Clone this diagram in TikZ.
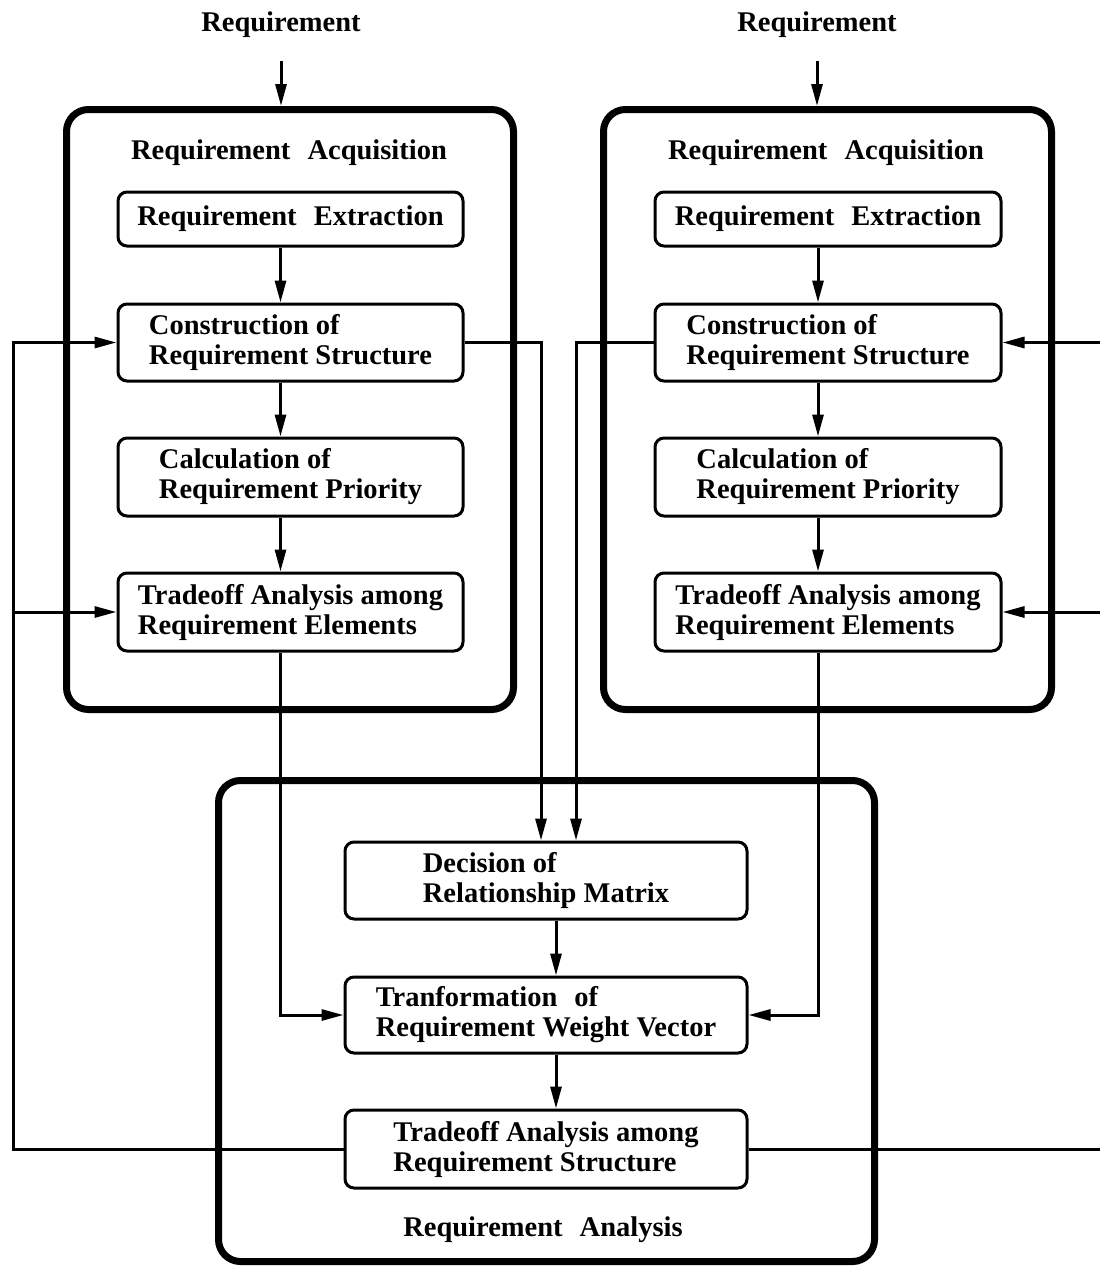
\documentclass[tikz,border=0pt]{standalone}
\usepackage{fontspec}
\setmainfont{Liberation Serif}
\usetikzlibrary{arrows.meta}
\begin{document}
\begin{tikzpicture}[x=1pt,y=-1pt,
 txt/.style={font=\fontsize{28.5}{30}\selectfont\bfseries},
 inbox/.style={draw, line width=3pt, rounded corners=9pt, align=left, txt, inner sep=0pt},
 lbox/.style={inbox, minimum width=345pt},
 rbox/.style={inbox, minimum width=346pt},
 bbox/.style={inbox, minimum width=402pt},
 bigbox/.style={draw, line width=7pt, rounded corners=22pt, inner sep=0pt},
 conn/.style={line width=3pt},
 arr/.style={conn, -{Triangle[length=22pt,width=11pt]}},
]
\useasboundingbox (0,0) rectangle (1100,1266);

% big boxes
\node[bigbox, minimum width=447pt, minimum height=600pt] (acqL) at (290,409.5) {};
\node[bigbox, minimum width=448pt, minimum height=600pt] (acqR) at (827.5,409.5) {};
\node[bigbox, minimum width=656pt, minimum height=481pt] (ana) at (546.5,1021) {};

% titles
\node[txt] (reqL) at (281,25) {Requirement};
\node[txt] (reqR) at (817,25) {Requirement};
\node[txt] (tL) at (289,153) {Requirement\hspace{0.6em}Acquisition};
\node[txt] (tR) at (826,153) {Requirement\hspace{0.6em}Acquisition};
\node[txt] (tA) at (543,1230) {Requirement\hspace{0.6em}Analysis};

% left column
\node[lbox, minimum height=54pt] (extL) at (290.5,219) {Requirement\hspace{0.6em}Extraction};
\node[lbox, minimum height=77pt] (consL) at (290.5,342.5) {Construction of\\Requirement Structure};
\node[lbox, minimum height=78pt] (calcL) at (290.5,477) {Calculation of\\Requirement Priority};
\node[lbox, minimum height=78pt] (tradeL) at (290.5,612) {Tradeoff Analysis among\\Requirement Elements};

% right column
\node[rbox, minimum height=54pt] (extR) at (828,219) {Requirement\hspace{0.6em}Extraction};
\node[rbox, minimum height=77pt] (consR) at (828,342.5) {Construction of\\Requirement Structure};
\node[rbox, minimum height=78pt] (calcR) at (828,477) {Calculation of\\Requirement Priority};
\node[rbox, minimum height=78pt] (tradeR) at (828,612) {Tradeoff Analysis among\\Requirement Elements};

% bottom column
\node[bbox, minimum height=77pt] (dec) at (546,880.5) {Decision of\\Relationship Matrix};
\node[bbox, minimum height=76pt] (trans) at (546,1015) {Tranformation\hspace{0.6em}of\\Requirement Weight Vector};
\node[bbox, minimum height=78pt] (tradeS) at (546,1149) {Tradeoff Analysis among\\Requirement Structure};

% input arrows
\draw[arr, shorten <=20pt] (reqL.south) -- (reqL.south |- acqL.north);
\draw[arr, shorten <=20pt] (reqR.south) -- (reqR.south |- acqR.north);

% vertical chains
\foreach \a/\b in {extL/consL, consL/calcL, calcL/tradeL, extR/consR, consR/calcR, calcR/tradeR}
  \draw[arr] ([xshift=-10pt]\a.south) -- ([xshift=-10pt]\b.north);
\foreach \a/\b in {dec/trans, trans/tradeS}
  \draw[arr] ([xshift=10pt]\a.south) -- ([xshift=10pt]\b.north);

% into analysis
\draw[arr] (consL.east) -| ([xshift=-5pt]dec.north);
\draw[arr] (consR.west) -| ([xshift=30pt]dec.north);
\draw[arr] ([xshift=-10pt]tradeL.south) |- (trans.west);
\draw[arr] ([xshift=-10pt]tradeR.south) |- (trans.east);

% feedback loops
\coordinate (lcol) at (13.5,0);
\coordinate (rcol) at (1103,0);
\draw[arr] (tradeS.west) -| (lcol |- consL.west) -- (consL.west);
\draw[arr] (lcol |- tradeL.west) -- (tradeL.west);
\draw[arr] (tradeS.east) -| (rcol |- consR.east) -- (consR.east);
\draw[arr] (rcol |- tradeR.east) -- (tradeR.east);
\end{tikzpicture}
\end{document}
